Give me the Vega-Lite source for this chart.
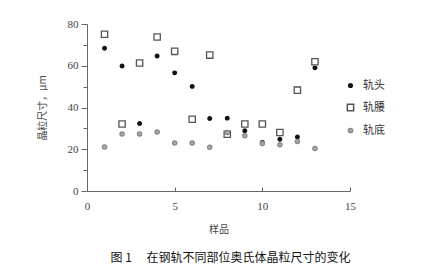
{
  "$schema": "https://vega.github.io/schema/vega-lite/v6.json",
  "width": 263,
  "height": 167,
  "autosize": "none",
  "padding": {"left": 87, "top": 24, "right": 95, "bottom": 87},
  "background": "white",
  "config": {"view": {"stroke": null}, "font": "Liberation Serif"},
  "title": {"text": "图 1\u3000 在钢轨不同部位奥氏体晶粒尺寸的变化", "orient": "bottom", "anchor": "middle", "font": "Noto Sans CJK SC", "fontSize": 12, "fontWeight": "normal", "color": "#111", "offset": 19, "dx": 12},
  "data": {"values": [
    {"s": 1, "part": "轨头", "v": 68.4}, {"s": 2, "part": "轨头", "v": 59.9}, {"s": 3, "part": "轨头", "v": 32.3}, {"s": 4, "part": "轨头", "v": 64.7}, {"s": 5, "part": "轨头", "v": 56.6}, {"s": 6, "part": "轨头", "v": 50.1}, {"s": 7, "part": "轨头", "v": 34.7}, {"s": 8, "part": "轨头", "v": 34.9}, {"s": 9, "part": "轨头", "v": 28.9}, {"s": 10, "part": "轨头", "v": 23.3}, {"s": 11, "part": "轨头", "v": 24.8}, {"s": 12, "part": "轨头", "v": 25.9}, {"s": 13, "part": "轨头", "v": 59.0},
    {"s": 1, "part": "轨腰", "v": 75.1}, {"s": 2, "part": "轨腰", "v": 32.1}, {"s": 3, "part": "轨腰", "v": 61.3}, {"s": 4, "part": "轨腰", "v": 73.8}, {"s": 5, "part": "轨腰", "v": 66.9}, {"s": 6, "part": "轨腰", "v": 34.4}, {"s": 7, "part": "轨腰", "v": 65.1}, {"s": 8, "part": "轨腰", "v": 27.2}, {"s": 9, "part": "轨腰", "v": 32.1}, {"s": 10, "part": "轨腰", "v": 32.1}, {"s": 11, "part": "轨腰", "v": 28.0}, {"s": 12, "part": "轨腰", "v": 48.3}, {"s": 13, "part": "轨腰", "v": 61.9},
    {"s": 1, "part": "轨底", "v": 21.1}, {"s": 2, "part": "轨底", "v": 27.3}, {"s": 3, "part": "轨底", "v": 27.3}, {"s": 4, "part": "轨底", "v": 28.3}, {"s": 5, "part": "轨底", "v": 23.0}, {"s": 6, "part": "轨底", "v": 23.0}, {"s": 7, "part": "轨底", "v": 20.9}, {"s": 8, "part": "轨底", "v": 28.0}, {"s": 9, "part": "轨底", "v": 26.5}, {"s": 10, "part": "轨底", "v": 22.7}, {"s": 11, "part": "轨底", "v": 22.2}, {"s": 12, "part": "轨底", "v": 23.7}, {"s": 13, "part": "轨底", "v": 20.4}
  ]},
  "layer": [
    {
      "mark": {"type": "point", "filled": true, "strokeWidth": 1.3, "opacity": 1},
      "encoding": {
        "x": {"field": "s", "type": "quantitative", "scale": {"domain": [0, 15], "nice": false, "zero": false},
          "axis": {"values": [0, 5, 10, 15], "title": "样品", "titleFont": "Noto Sans CJK SC", "titleFontSize": 10, "titleFontWeight": "normal", "titleColor": "#444", "titlePadding": 13, "tickSize": -4, "labelPadding": 13, "labelFont": "Liberation Serif", "labelFontSize": 11, "labelColor": "#444", "domainColor": "#666", "tickColor": "#666", "grid": false, "labelFlush": false}},
        "y": {"field": "v", "type": "quantitative", "scale": {"domain": [0, 80], "nice": false},
          "axis": {"values": [0, 20, 40, 60, 80], "title": "晶粒尺寸，μm", "titleFont": "Noto Sans CJK SC", "titleFontSize": 10, "titleFontWeight": "normal", "titleColor": "#444", "titlePadding": 20, "tickSize": 6, "labelPadding": 3, "labelFont": "Liberation Serif", "labelFontSize": 11, "labelColor": "#444", "domainColor": "#666", "tickColor": "#666", "grid": false, "labelFlush": false}},
        "fill": {"field": "part", "type": "nominal", "title": null, "scale": {"domain": ["轨头", "轨腰", "轨底"], "range": ["#111111", "#ffffff", "#aaaaaa"]},
          "legend": {"orient": "none", "legendX": 258, "legendY": 56, "labelFont": "Noto Sans CJK SC", "labelFontSize": 11, "labelColor": "#333", "rowPadding": 10, "labelOffset": 7}},
        "stroke": {"field": "part", "type": "nominal", "title": null, "scale": {"domain": ["轨头", "轨腰", "轨底"], "range": ["#111111", "#555555", "#888888"]}},
        "shape": {"field": "part", "type": "nominal", "title": null, "scale": {"domain": ["轨头", "轨腰", "轨底"], "range": ["circle", "square", "circle"]}},
        "size": {"field": "part", "type": "nominal", "title": null, "scale": {"type": "ordinal", "domain": ["轨头", "轨腰", "轨底"], "range": [13, 40, 18]}}
      }
    },
    {
      "mark": {"type": "point", "opacity": 0},
      "encoding": {
        "x": {"field": "s", "type": "quantitative"},
        "y": {"field": "v", "type": "quantitative",
          "axis": {"orient": "left", "values": [10, 30, 50, 70], "labels": false, "domain": false, "title": null, "tickSize": 4, "tickColor": "#666", "grid": false}}
      }
    }
  ],
  "resolve": {"axis": {"y": "independent"}}
}
